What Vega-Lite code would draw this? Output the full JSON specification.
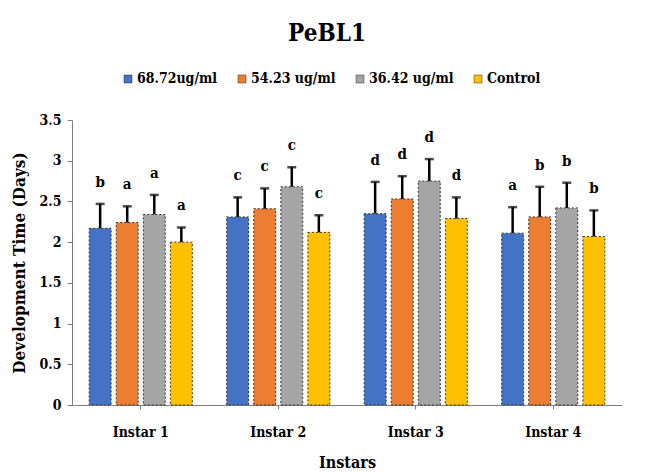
{
  "$schema": "https://vega.github.io/schema/vega-lite/v6.json",
  "width": 550,
  "height": 285,
  "autosize": {"type": "none"},
  "padding": {"left": 72, "top": 120, "right": 31, "bottom": 68},
  "background": "white",
  "title": {
    "text": "PeBL1",
    "font": "DejaVu Serif Condensed, DejaVu Serif",
    "fontSize": 24,
    "fontWeight": "bold",
    "color": "black",
    "anchor": "middle",
    "dx": -20,
    "offset": 26
  },
  "data": {
    "values": [
      {"instar": "Instar 1", "group": "68.72ug/ml", "value": 2.17, "upper": 2.47, "label": "b"},
      {"instar": "Instar 1", "group": "54.23 ug/ml", "value": 2.24, "upper": 2.44, "label": "a"},
      {"instar": "Instar 1", "group": "36.42 ug/ml", "value": 2.34, "upper": 2.58, "label": "a"},
      {"instar": "Instar 1", "group": "Control", "value": 2.0, "upper": 2.18, "label": "a"},
      {"instar": "Instar 2", "group": "68.72ug/ml", "value": 2.31, "upper": 2.55, "label": "c"},
      {"instar": "Instar 2", "group": "54.23 ug/ml", "value": 2.41, "upper": 2.66, "label": "c"},
      {"instar": "Instar 2", "group": "36.42 ug/ml", "value": 2.68, "upper": 2.92, "label": "c"},
      {"instar": "Instar 2", "group": "Control", "value": 2.12, "upper": 2.33, "label": "c"},
      {"instar": "Instar 3", "group": "68.72ug/ml", "value": 2.35, "upper": 2.74, "label": "d"},
      {"instar": "Instar 3", "group": "54.23 ug/ml", "value": 2.53, "upper": 2.81, "label": "d"},
      {"instar": "Instar 3", "group": "36.42 ug/ml", "value": 2.75, "upper": 3.02, "label": "d"},
      {"instar": "Instar 3", "group": "Control", "value": 2.29, "upper": 2.55, "label": "d"},
      {"instar": "Instar 4", "group": "68.72ug/ml", "value": 2.11, "upper": 2.43, "label": "a"},
      {"instar": "Instar 4", "group": "54.23 ug/ml", "value": 2.31, "upper": 2.68, "label": "b"},
      {"instar": "Instar 4", "group": "36.42 ug/ml", "value": 2.42, "upper": 2.73, "label": "b"},
      {"instar": "Instar 4", "group": "Control", "value": 2.07, "upper": 2.39, "label": "b"}
    ]
  },
  "encoding": {
    "x": {
      "field": "instar",
      "type": "nominal",
      "scale": {"paddingInner": 0.25, "paddingOuter": 0.125},
      "axis": {
        "title": "Instars",
        "labelAngle": 0,
        "labelFont": "DejaVu Serif Condensed, DejaVu Serif",
        "labelFontSize": 14,
        "labelFontWeight": "bold",
        "labelColor": "black",
        "labelPadding": 16,
        "titleFont": "DejaVu Serif Condensed, DejaVu Serif",
        "titleFontSize": 16,
        "titleFontWeight": "bold",
        "titleColor": "black",
        "titlePadding": 15,
        "domainColor": "#7f7f7f",
        "tickColor": "#7f7f7f",
        "tickSize": 4
      }
    },
    "xOffset": {
      "field": "group",
      "type": "nominal",
      "sort": ["68.72ug/ml", "54.23 ug/ml", "36.42 ug/ml", "Control"],
      "scale": {"paddingInner": 0.19, "paddingOuter": 0}
    }
  },
  "layer": [
    {
      "mark": {"type": "bar", "stroke": "#333333", "strokeWidth": 1, "strokeDash": [2, 2]},
      "encoding": {
        "y": {
          "field": "value",
          "type": "quantitative",
          "scale": {"domain": [0, 3.5]},
          "axis": {
            "title": "Development Time (Days)",
            "values": [0, 0.5, 1, 1.5, 2, 2.5, 3, 3.5],
            "labelExpr": "'' + datum.value",
            "grid": false,
            "labelFont": "DejaVu Serif Condensed, DejaVu Serif",
            "labelFontSize": 14,
            "labelFontWeight": "bold",
            "labelColor": "black",
            "labelPadding": 6,
            "titleFont": "DejaVu Serif Condensed, DejaVu Serif",
            "titleFontSize": 17,
            "titleFontWeight": "bold",
            "titleColor": "black",
            "titlePadding": 11,
            "domainColor": "#7f7f7f",
            "tickColor": "#7f7f7f",
            "tickSize": 5
          }
        },
        "color": {
          "field": "group",
          "type": "nominal",
          "scale": {
            "domain": ["68.72ug/ml", "54.23 ug/ml", "36.42 ug/ml", "Control"],
            "range": ["#4472C4", "#ED7D31", "#A5A5A5", "#FFC000"]
          },
          "legend": {
            "title": null,
            "orient": "none",
            "direction": "horizontal",
            "legendX": 49,
            "legendY": -48,
            "symbolType": "square",
            "symbolSize": 64,
            "symbolStrokeColor": "#333333",
            "symbolStrokeWidth": 0.5,
            "labelFont": "DejaVu Serif Condensed, DejaVu Serif",
            "labelFontSize": 14,
            "labelFontWeight": "bold",
            "labelColor": "black",
            "labelOffset": 2,
            "columnPadding": 17
          }
        }
      }
    },
    {
      "mark": {"type": "rule", "color": "black", "strokeWidth": 2.5},
      "encoding": {
        "y": {"field": "value", "type": "quantitative"},
        "y2": {"field": "upper"}
      }
    },
    {
      "mark": {"type": "tick", "color": "black", "thickness": 2.5, "size": 9, "orient": "horizontal"},
      "encoding": {
        "y": {"field": "upper", "type": "quantitative"}
      }
    },
    {
      "mark": {"type": "text", "dy": -14, "baseline": "bottom", "font": "DejaVu Serif Condensed, DejaVu Serif", "fontSize": 15, "fontWeight": "bold", "color": "black"},
      "encoding": {
        "y": {"field": "upper", "type": "quantitative"},
        "text": {"field": "label"}
      }
    }
  ],
  "config": {
    "view": {"stroke": null}
  }
}
